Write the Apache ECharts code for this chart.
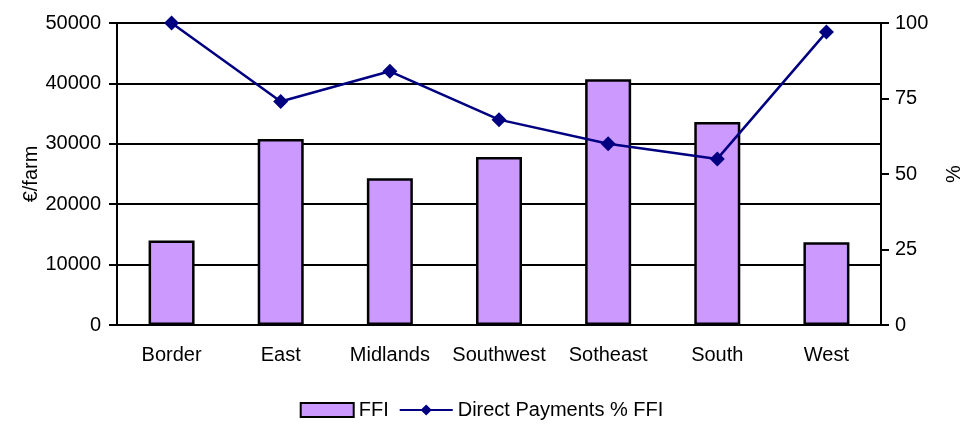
<!DOCTYPE html>
<html>
<head>
    <meta charset="utf-8">
    <title>FFI by region</title>
    <script src="https://cdn.jsdelivr.net/npm/echarts@6/dist/echarts.min.js"></script>
</head>
<body style="margin:0">
<div id="main" style="width: 963px;height:425px;"></div>
<script type="text/javascript">
    var regions = ['Border', 'East', 'Midlands', 'Southwest', 'Sotheast', 'South', 'West'];
    var ffi = [14000, 30800, 24300, 27800, 40700, 33600, 13700];
    var directPct = [100, 74, 84, 68, 60, 55, 97];

    var font = 'Liberation Sans, Arial, sans-serif';
    var fs = 20;
    var myChart = echarts.init(document.getElementById('main'));

    var option = {
        animation: false,
        textStyle: {fontFamily: font, color: '#000'},
        grid: {left: 117, right: 82, top: 23, bottom: 100, outerBoundsMode: 'none', containLabel: false},
        legend: {
            bottom: 0,
            left: 'center',
            itemWidth: 53,
            itemHeight: 14,
            itemGap: 10,
            textStyle: {fontSize: fs, color: '#000', fontFamily: font},
            data: [{name: 'FFI', icon: 'rect'}, 'Direct Payments % FFI']
        },
        xAxis: {
            type: 'category',
            data: regions,
            axisLine: {lineStyle: {color: '#000', width: 2}},
            axisTick: {length: 8, interval: 0, lineStyle: {color: '#000', width: 2}},
            axisLabel: {fontSize: fs, color: '#000', margin: 20, interval: 0, fontFamily: font}
        },
        yAxis: [{
            type: 'value',
            min: 0, max: 50000, interval: 10000,
            name: '€/farm',
            nameLocation: 'middle',
            nameGap: 76,
            nameMoveOverlap: false,
            nameTextStyle: {fontSize: fs, color: '#000', fontFamily: font},
            axisLine: {show: true, lineStyle: {color: '#000', width: 2}},
            axisTick: {show: true, length: 8, lineStyle: {color: '#000', width: 2}},
            axisLabel: {fontSize: fs, color: '#000', margin: 16, fontFamily: font,
                formatter: function (v) { return String(v); }},
            splitLine: {lineStyle: {color: '#000', width: 2}}
        }, {
            type: 'value',
            min: 0, max: 100, interval: 25,
            name: '%',
            nameLocation: 'middle',
            nameGap: 63,
            nameRotate: 90,
            nameMoveOverlap: false,
            nameTextStyle: {fontSize: fs, color: '#000', fontFamily: font},
            axisLine: {show: true, lineStyle: {color: '#000', width: 2}},
            axisTick: {show: true, length: 8, lineStyle: {color: '#000', width: 2}},
            axisLabel: {fontSize: fs, color: '#000', margin: 14, fontFamily: font},
            splitLine: {show: false}
        }],
        series: [{
            name: 'FFI',
            type: 'bar',
            data: ffi,
            barWidth: 46,
            itemStyle: {color: '#CC99FF', borderColor: '#000', borderWidth: 2.5}
        }, {
            name: 'Direct Payments % FFI',
            type: 'line',
            yAxisIndex: 1,
            data: directPct,
            symbol: 'diamond',
            symbolSize: 15,
            lineStyle: {color: '#000080', width: 2.5},
            itemStyle: {color: '#000080'}
        }]
    };
    myChart.setOption(option);
</script>
</body>
</html>
